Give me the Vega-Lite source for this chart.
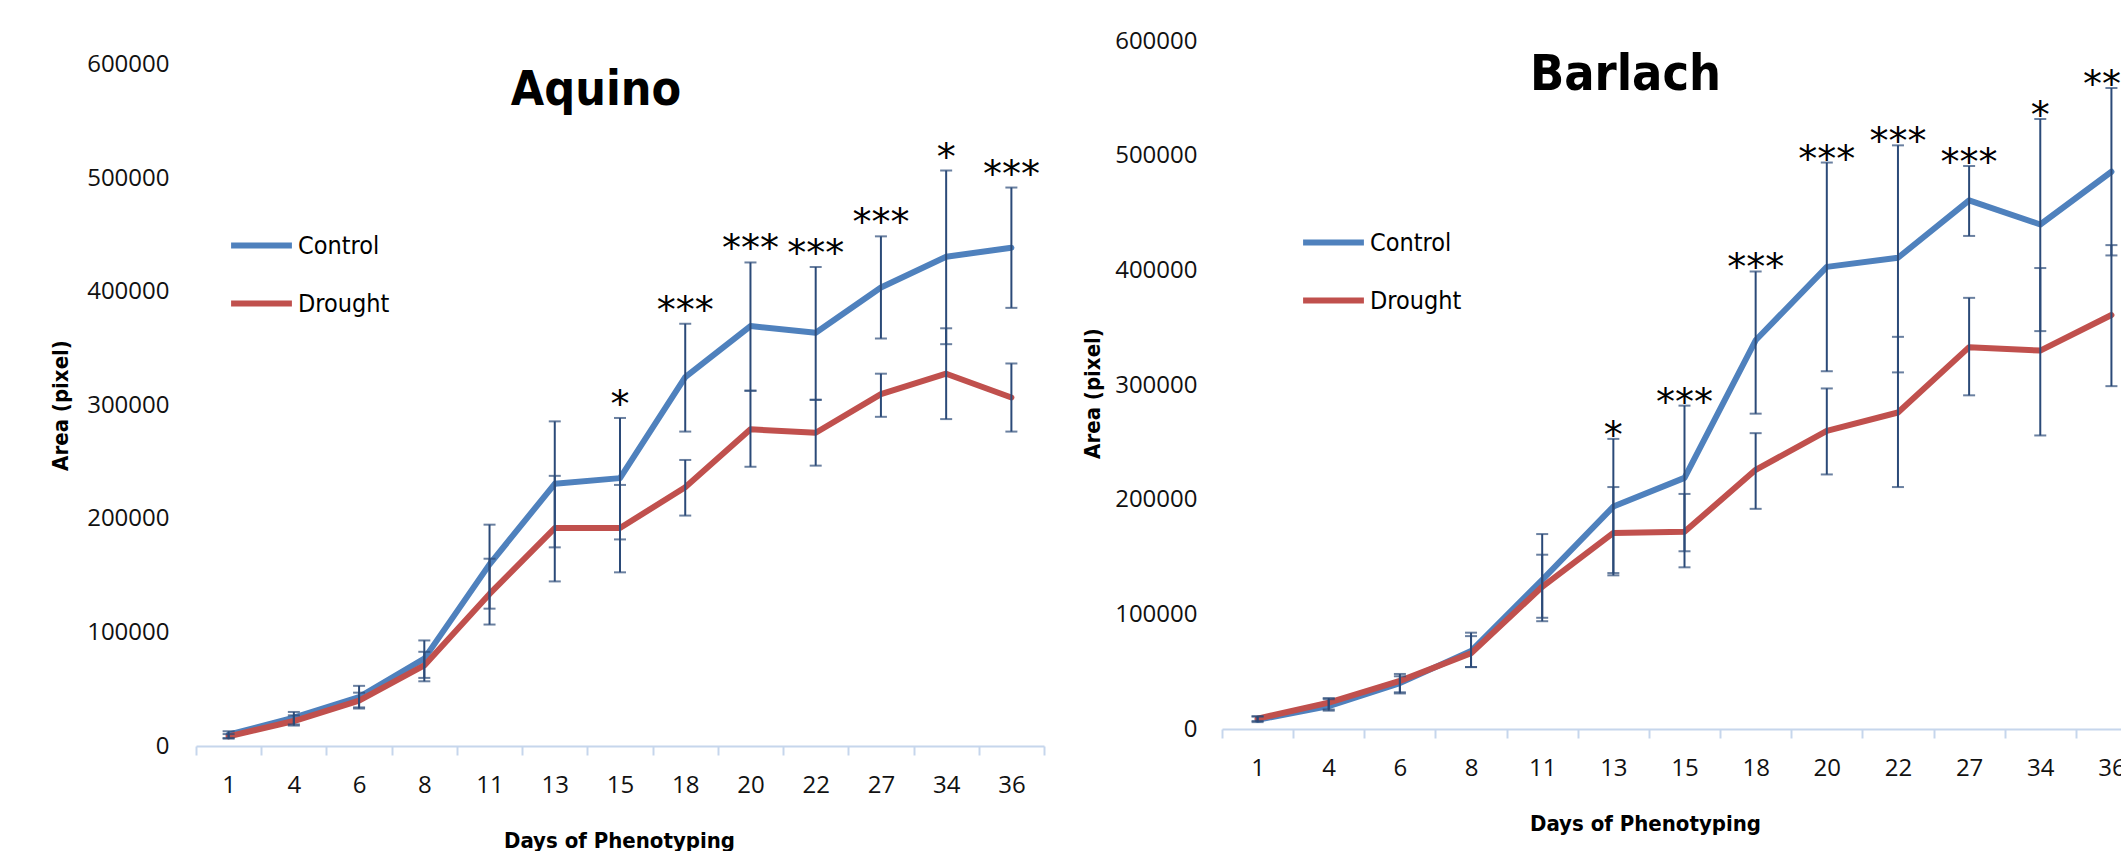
{
  "$schema": "https://vega.github.io/schema/vega-lite/v6.json",
  "background": "white",
  "padding": {"left": 49, "top": 29, "right": 0, "bottom": 0},
  "autosize": {"type": "pad"},
  "spacing": 36,
  "config": {
    "view": {"stroke": null},
    "font": "Open Sans",
    "axis": {"grid": false}
  },
  "resolve": {"scale": {"color": "independent"}, "legend": {"color": "independent"}},
  "datasets": {
    "aquino": [
      {"day": 1, "series": "Control", "value": 10000, "lo": 7000, "hi": 13000, "sig": ""},
      {"day": 4, "series": "Control", "value": 25000, "lo": 19000, "hi": 30000, "sig": ""},
      {"day": 6, "series": "Control", "value": 43000, "lo": 34000, "hi": 53000, "sig": ""},
      {"day": 8, "series": "Control", "value": 77000, "lo": 60000, "hi": 93000, "sig": ""},
      {"day": 11, "series": "Control", "value": 160000, "lo": 121000, "hi": 195000, "sig": ""},
      {"day": 13, "series": "Control", "value": 231000, "lo": 175000, "hi": 286000, "sig": ""},
      {"day": 15, "series": "Control", "value": 236000, "lo": 182000, "hi": 289000, "sig": "*"},
      {"day": 18, "series": "Control", "value": 325000, "lo": 277000, "hi": 372000, "sig": "***"},
      {"day": 20, "series": "Control", "value": 370000, "lo": 313000, "hi": 426000, "sig": "***"},
      {"day": 22, "series": "Control", "value": 364000, "lo": 305000, "hi": 422000, "sig": "***"},
      {"day": 27, "series": "Control", "value": 404000, "lo": 359000, "hi": 449000, "sig": "***"},
      {"day": 34, "series": "Control", "value": 431000, "lo": 354000, "hi": 507000, "sig": "*"},
      {"day": 36, "series": "Control", "value": 439000, "lo": 386000, "hi": 492000, "sig": "***"},
      {"day": 1, "series": "Drought", "value": 8500, "lo": 6500, "hi": 10500, "sig": ""},
      {"day": 4, "series": "Drought", "value": 22000, "lo": 18000, "hi": 27000, "sig": ""},
      {"day": 6, "series": "Drought", "value": 40000, "lo": 33000, "hi": 47000, "sig": ""},
      {"day": 8, "series": "Drought", "value": 71000, "lo": 57000, "hi": 83000, "sig": ""},
      {"day": 11, "series": "Drought", "value": 134000, "lo": 107000, "hi": 165000, "sig": ""},
      {"day": 13, "series": "Drought", "value": 192000, "lo": 145000, "hi": 238000, "sig": ""},
      {"day": 15, "series": "Drought", "value": 192000, "lo": 153000, "hi": 230000, "sig": ""},
      {"day": 18, "series": "Drought", "value": 228000, "lo": 203000, "hi": 252000, "sig": ""},
      {"day": 20, "series": "Drought", "value": 279000, "lo": 246000, "hi": 313000, "sig": ""},
      {"day": 22, "series": "Drought", "value": 276000, "lo": 247000, "hi": 305000, "sig": ""},
      {"day": 27, "series": "Drought", "value": 310000, "lo": 290000, "hi": 328000, "sig": ""},
      {"day": 34, "series": "Drought", "value": 328000, "lo": 288000, "hi": 368000, "sig": ""},
      {"day": 36, "series": "Drought", "value": 307000, "lo": 277000, "hi": 337000, "sig": ""}
    ],
    "barlach": [
      {"day": 1, "series": "Control", "value": 8000, "lo": 6000, "hi": 11000, "sig": ""},
      {"day": 4, "series": "Control", "value": 20000, "lo": 16000, "hi": 27000, "sig": ""},
      {"day": 6, "series": "Control", "value": 40000, "lo": 31000, "hi": 48000, "sig": ""},
      {"day": 8, "series": "Control", "value": 68000, "lo": 54000, "hi": 84000, "sig": ""},
      {"day": 11, "series": "Control", "value": 130000, "lo": 94000, "hi": 170000, "sig": ""},
      {"day": 13, "series": "Control", "value": 194000, "lo": 134000, "hi": 253000, "sig": "*"},
      {"day": 15, "series": "Control", "value": 219000, "lo": 155000, "hi": 282000, "sig": "***"},
      {"day": 18, "series": "Control", "value": 339000, "lo": 275000, "hi": 399000, "sig": "***"},
      {"day": 20, "series": "Control", "value": 403000, "lo": 312000, "hi": 494000, "sig": "***"},
      {"day": 22, "series": "Control", "value": 411000, "lo": 311000, "hi": 509000, "sig": "***"},
      {"day": 27, "series": "Control", "value": 461000, "lo": 430000, "hi": 491000, "sig": "***"},
      {"day": 34, "series": "Control", "value": 440000, "lo": 347000, "hi": 532000, "sig": "*"},
      {"day": 36, "series": "Control", "value": 486000, "lo": 413000, "hi": 559000, "sig": "***"},
      {"day": 1, "series": "Drought", "value": 9000, "lo": 7000, "hi": 11000, "sig": ""},
      {"day": 4, "series": "Drought", "value": 23000, "lo": 17000, "hi": 26000, "sig": ""},
      {"day": 6, "series": "Drought", "value": 42000, "lo": 32000, "hi": 46000, "sig": ""},
      {"day": 8, "series": "Drought", "value": 66000, "lo": 54000, "hi": 81000, "sig": ""},
      {"day": 11, "series": "Drought", "value": 124000, "lo": 97000, "hi": 152000, "sig": ""},
      {"day": 13, "series": "Drought", "value": 171000, "lo": 136000, "hi": 211000, "sig": ""},
      {"day": 15, "series": "Drought", "value": 172000, "lo": 141000, "hi": 205000, "sig": ""},
      {"day": 18, "series": "Drought", "value": 226000, "lo": 192000, "hi": 258000, "sig": ""},
      {"day": 20, "series": "Drought", "value": 260000, "lo": 222000, "hi": 297000, "sig": ""},
      {"day": 22, "series": "Drought", "value": 276000, "lo": 211000, "hi": 342000, "sig": ""},
      {"day": 27, "series": "Drought", "value": 333000, "lo": 291000, "hi": 376000, "sig": ""},
      {"day": 34, "series": "Drought", "value": 330000, "lo": 256000, "hi": 402000, "sig": ""},
      {"day": 36, "series": "Drought", "value": 361000, "lo": 299000, "hi": 422000, "sig": ""}
    ]
  },
  "hconcat": [
    {
      "width": 848,
      "height": 705,
      "data": {"name": "aquino"},
      "title": {"text": "Aquino", "font": "DejaVu Sans Condensed, DejaVu Sans, sans-serif", "fontWeight": "bold", "fontSize": 48, "color": "black", "anchor": "middle", "dx": -24, "offset": 0, "dy": 112, "baseline": "alphabetic"},
      "encoding": {
        "x": {"field": "day", "type": "ordinal", "scale": {"paddingInner": 0, "paddingOuter": 0},
          "axis": {"title": "Days of Phenotyping", "labelAngle": 0, "labelFont": "Open Sans", "labelFontSize": 24, "labelColor": "#111", "labelPadding": 18,
            "domainColor": "#c6d6ec", "domainWidth": 2, "tickColor": "#c6d6ec", "tickWidth": 2, "tickSize": 9, "tickBand": "extent",
            "titleFont": "DejaVu Sans Condensed, DejaVu Sans, sans-serif", "titleFontWeight": "bold", "titleFontSize": 22, "titleColor": "black",
            "titleX": 423, "titleY": 101, "titleBaseline": "alphabetic"}}
      },
      "layer": [
        {
          "mark": {"type": "line", "strokeWidth": 6, "strokeCap": "round", "strokeJoin": "round"},
          "encoding": {
            "y": {"field": "value", "type": "quantitative", "scale": {"domain": [0, 621100], "nice": false, "zero": true},
              "axis": {"title": "Area (pixel)", "values": [0, 100000, 200000, 300000, 400000, 500000, 600000], "format": "d",
                "domain": false, "ticks": false, "tickSize": 0, "labelPadding": 27, "labelFont": "Open Sans", "labelFontSize": 24, "labelColor": "#111",
                "titleFont": "DejaVu Sans Condensed, DejaVu Sans, sans-serif", "titleFontWeight": "bold", "titleFontSize": 22, "titleColor": "black",
                "titleX": -124, "titleY": 364}},
            "color": {"field": "series", "type": "nominal", "scale": {"domain": ["Control", "Drought"], "range": ["#4f81bd", "#c0504d"]},
              "legend": {"title": null, "orient": "none", "legendX": 32, "legendY": 171, "padding": 0, "rowPadding": 11, "symbolType": "stroke", "symbolStrokeWidth": 6, "symbolSize": 3700, "labelOffset": 3,
                "labelFont": "DejaVu Sans Condensed, DejaVu Sans, sans-serif", "labelFontSize": 25, "labelColor": "black"}}
          }
        },
        {
          "mark": {"type": "rule", "color": "#2b4a78", "strokeWidth": 2},
          "encoding": {"y": {"field": "lo", "type": "quantitative"}, "y2": {"field": "hi"}}
        },
        {
          "mark": {"type": "tick", "color": "#2b4a78", "thickness": 2, "size": 12},
          "encoding": {"y": {"field": "lo", "type": "quantitative"}}
        },
        {
          "mark": {"type": "tick", "color": "#2b4a78", "thickness": 2, "size": 12},
          "encoding": {"y": {"field": "hi", "type": "quantitative"}}
        },
        {
          "transform": [{"filter": "datum.sig != ''"}],
          "mark": {"type": "text", "font": "DejaVu Sans", "fontSize": 38, "color": "black", "baseline": "alphabetic", "dy": -1},
          "encoding": {"y": {"field": "hi", "type": "quantitative"}, "text": {"field": "sig"}}
        }
      ]
    },
    {
      "width": 925,
      "height": 688,
      "data": {"name": "barlach"},
      "title": {"text": "Barlach", "font": "DejaVu Sans Condensed, DejaVu Sans, sans-serif", "fontWeight": "bold", "fontSize": 50, "color": "black", "anchor": "middle", "dx": -59, "offset": 0, "dy": 111, "baseline": "alphabetic"},
      "encoding": {
        "x": {"field": "day", "type": "ordinal", "scale": {"paddingInner": 0, "paddingOuter": 0},
          "axis": {"title": "Days of Phenotyping", "labelAngle": 0, "labelFont": "Open Sans", "labelFontSize": 24, "labelColor": "#111", "labelPadding": 18,
            "domainColor": "#c6d6ec", "domainWidth": 2, "tickColor": "#c6d6ec", "tickWidth": 2, "tickSize": 9, "tickBand": "extent",
            "titleFont": "DejaVu Sans Condensed, DejaVu Sans, sans-serif", "titleFontWeight": "bold", "titleFontSize": 22, "titleColor": "black",
            "titleX": 423, "titleY": 101, "titleBaseline": "alphabetic"}}
      },
      "layer": [
        {
          "mark": {"type": "line", "strokeWidth": 6, "strokeCap": "round", "strokeJoin": "round"},
          "encoding": {
            "y": {"field": "value", "type": "quantitative", "scale": {"domain": [0, 600000], "nice": false, "zero": true},
              "axis": {"title": "Area (pixel)", "values": [0, 100000, 200000, 300000, 400000, 500000, 600000], "format": "d",
                "domain": false, "ticks": false, "tickSize": 0, "labelPadding": 25, "labelFont": "Open Sans", "labelFontSize": 24, "labelColor": "#111",
                "titleFont": "DejaVu Sans Condensed, DejaVu Sans, sans-serif", "titleFontWeight": "bold", "titleFontSize": 22, "titleColor": "black",
                "titleX": -118, "titleY": 352}},
            "color": {"field": "series", "type": "nominal", "scale": {"domain": ["Control", "Drought"], "range": ["#4f81bd", "#c0504d"]},
              "legend": {"title": null, "orient": "none", "legendX": 78, "legendY": 168, "padding": 0, "rowPadding": 11, "symbolType": "stroke", "symbolStrokeWidth": 6, "symbolSize": 3700, "labelOffset": 3,
                "labelFont": "DejaVu Sans Condensed, DejaVu Sans, sans-serif", "labelFontSize": 25, "labelColor": "black"}}
          }
        },
        {
          "mark": {"type": "rule", "color": "#2b4a78", "strokeWidth": 2},
          "encoding": {"y": {"field": "lo", "type": "quantitative"}, "y2": {"field": "hi"}}
        },
        {
          "mark": {"type": "tick", "color": "#2b4a78", "thickness": 2, "size": 12},
          "encoding": {"y": {"field": "lo", "type": "quantitative"}}
        },
        {
          "mark": {"type": "tick", "color": "#2b4a78", "thickness": 2, "size": 12},
          "encoding": {"y": {"field": "hi", "type": "quantitative"}}
        },
        {
          "transform": [{"filter": "datum.sig != ''"}],
          "mark": {"type": "text", "font": "DejaVu Sans", "fontSize": 38, "color": "black", "baseline": "alphabetic", "dy": 9},
          "encoding": {"y": {"field": "hi", "type": "quantitative"}, "text": {"field": "sig"}}
        }
      ]
    }
  ]
}
